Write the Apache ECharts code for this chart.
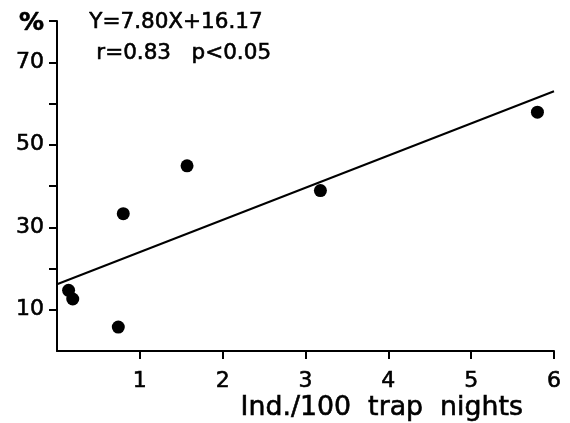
<!DOCTYPE html>
<html>
<head>
<meta charset="utf-8">
<style>
  html, body { margin: 0; padding: 0; background: #fff; }
  #chart { width: 570px; height: 423px; }
</style>
<script src="https://cdn.jsdelivr.net/npm/echarts@6/dist/echarts.min.js"></script>
</head>
<body>
<div id="chart"></div>
<script>
// Capture density (individuals per 100 trap nights) vs. percentage
const densityX = [0.14, 0.19, 0.74, 0.80, 1.57, 3.18, 5.80];
const percentY = [14.7, 12.6, 5.8, 33.3, 44.9, 38.9, 57.9];

// Fitted regression line Y = a X + b
const slope = 7.80;
const intercept = 16.17;
const fitRange = [0, 6];

const xTickValues = [1, 2, 3, 4, 5, 6];
const yTickValues = [10, 20, 30, 40, 50, 60, 70, 80];
const yLabelValues = [10, 30, 50, 70, 80];

const equationText = 'Y=7.80X+16.17';
const statsText = 'r=0.83   p<0.05';
const xAxisTitle = 'Ind./100  trap  nights';

const FONT = '"DejaVu Sans", sans-serif';
// slight outline so the glyphs read with a heavier stroke
const INK = { color: '#000', textBorderColor: '#000', textBorderWidth: 0.6 };

const chart = echarts.init(document.getElementById('chart'), null, { renderer: 'canvas' });

const fitLine = fitRange.map(x => [x, slope * x + intercept]);
const points = densityX.map((x, i) => [x, percentY[i]]);

chart.setOption({
  animation: false,
  backgroundColor: '#fff',
  grid: { left: 57, right: 16, top: 21, bottom: 72 },
  xAxis: {
    type: 'value',
    min: 0, max: 6, interval: 1,
    splitLine: { show: false },
    axisLine: { show: true, onZero: false, lineStyle: { color: '#000', width: 2 } },
    axisTick: { show: true, inside: false, length: 8, customValues: xTickValues,
                lineStyle: { color: '#000', width: 2 } },
    axisLabel: Object.assign({ show: true, customValues: xTickValues,
                 fontFamily: FONT, fontSize: 22, margin: 19 }, INK),
    name: xAxisTitle,
    nameLocation: 'end',
    nameGap: 0,
    nameTextStyle: Object.assign({ fontFamily: FONT, fontSize: 26.8,
                     align: 'right', verticalAlign: 'top', padding: [44, 31, 0, 0] }, INK)
  },
  yAxis: {
    type: 'value',
    min: 0, max: 80, interval: 10,
    splitLine: { show: false },
    axisLine: { show: true, onZero: false, lineStyle: { color: '#000', width: 2 } },
    axisTick: { show: true, length: 8, customValues: yTickValues,
                lineStyle: { color: '#000', width: 2 } },
    axisLabel: Object.assign({
      show: true, customValues: yLabelValues,
      fontFamily: FONT, fontSize: 22, margin: 13,
      formatter: v => (v === 80 ? '{pct|%}' : String(v)),
      rich: { pct: { fontFamily: FONT, fontSize: 25, fontWeight: 'bold', color: '#000',
                     padding: [4, 0, 0, 0] } }
    }, INK)
  },
  graphic: [
    { type: 'text', left: 89, top: 11,
      style: { text: equationText, fill: '#000', stroke: '#000', lineWidth: 0.6,
               font: '21.5px ' + FONT } },
    { type: 'text', left: 96, top: 42,
      style: { text: statsText, fill: '#000', stroke: '#000', lineWidth: 0.6,
               font: '21.5px ' + FONT } }
  ],
  series: [
    {
      type: 'line',
      data: fitLine,
      showSymbol: false,
      lineStyle: { color: '#000', width: 2 },
      z: 2
    },
    {
      type: 'scatter',
      data: points,
      symbol: 'circle',
      symbolSize: 13,
      itemStyle: { color: '#000', opacity: 1 },
      z: 3
    }
  ]
});
</script>
</body>
</html>
